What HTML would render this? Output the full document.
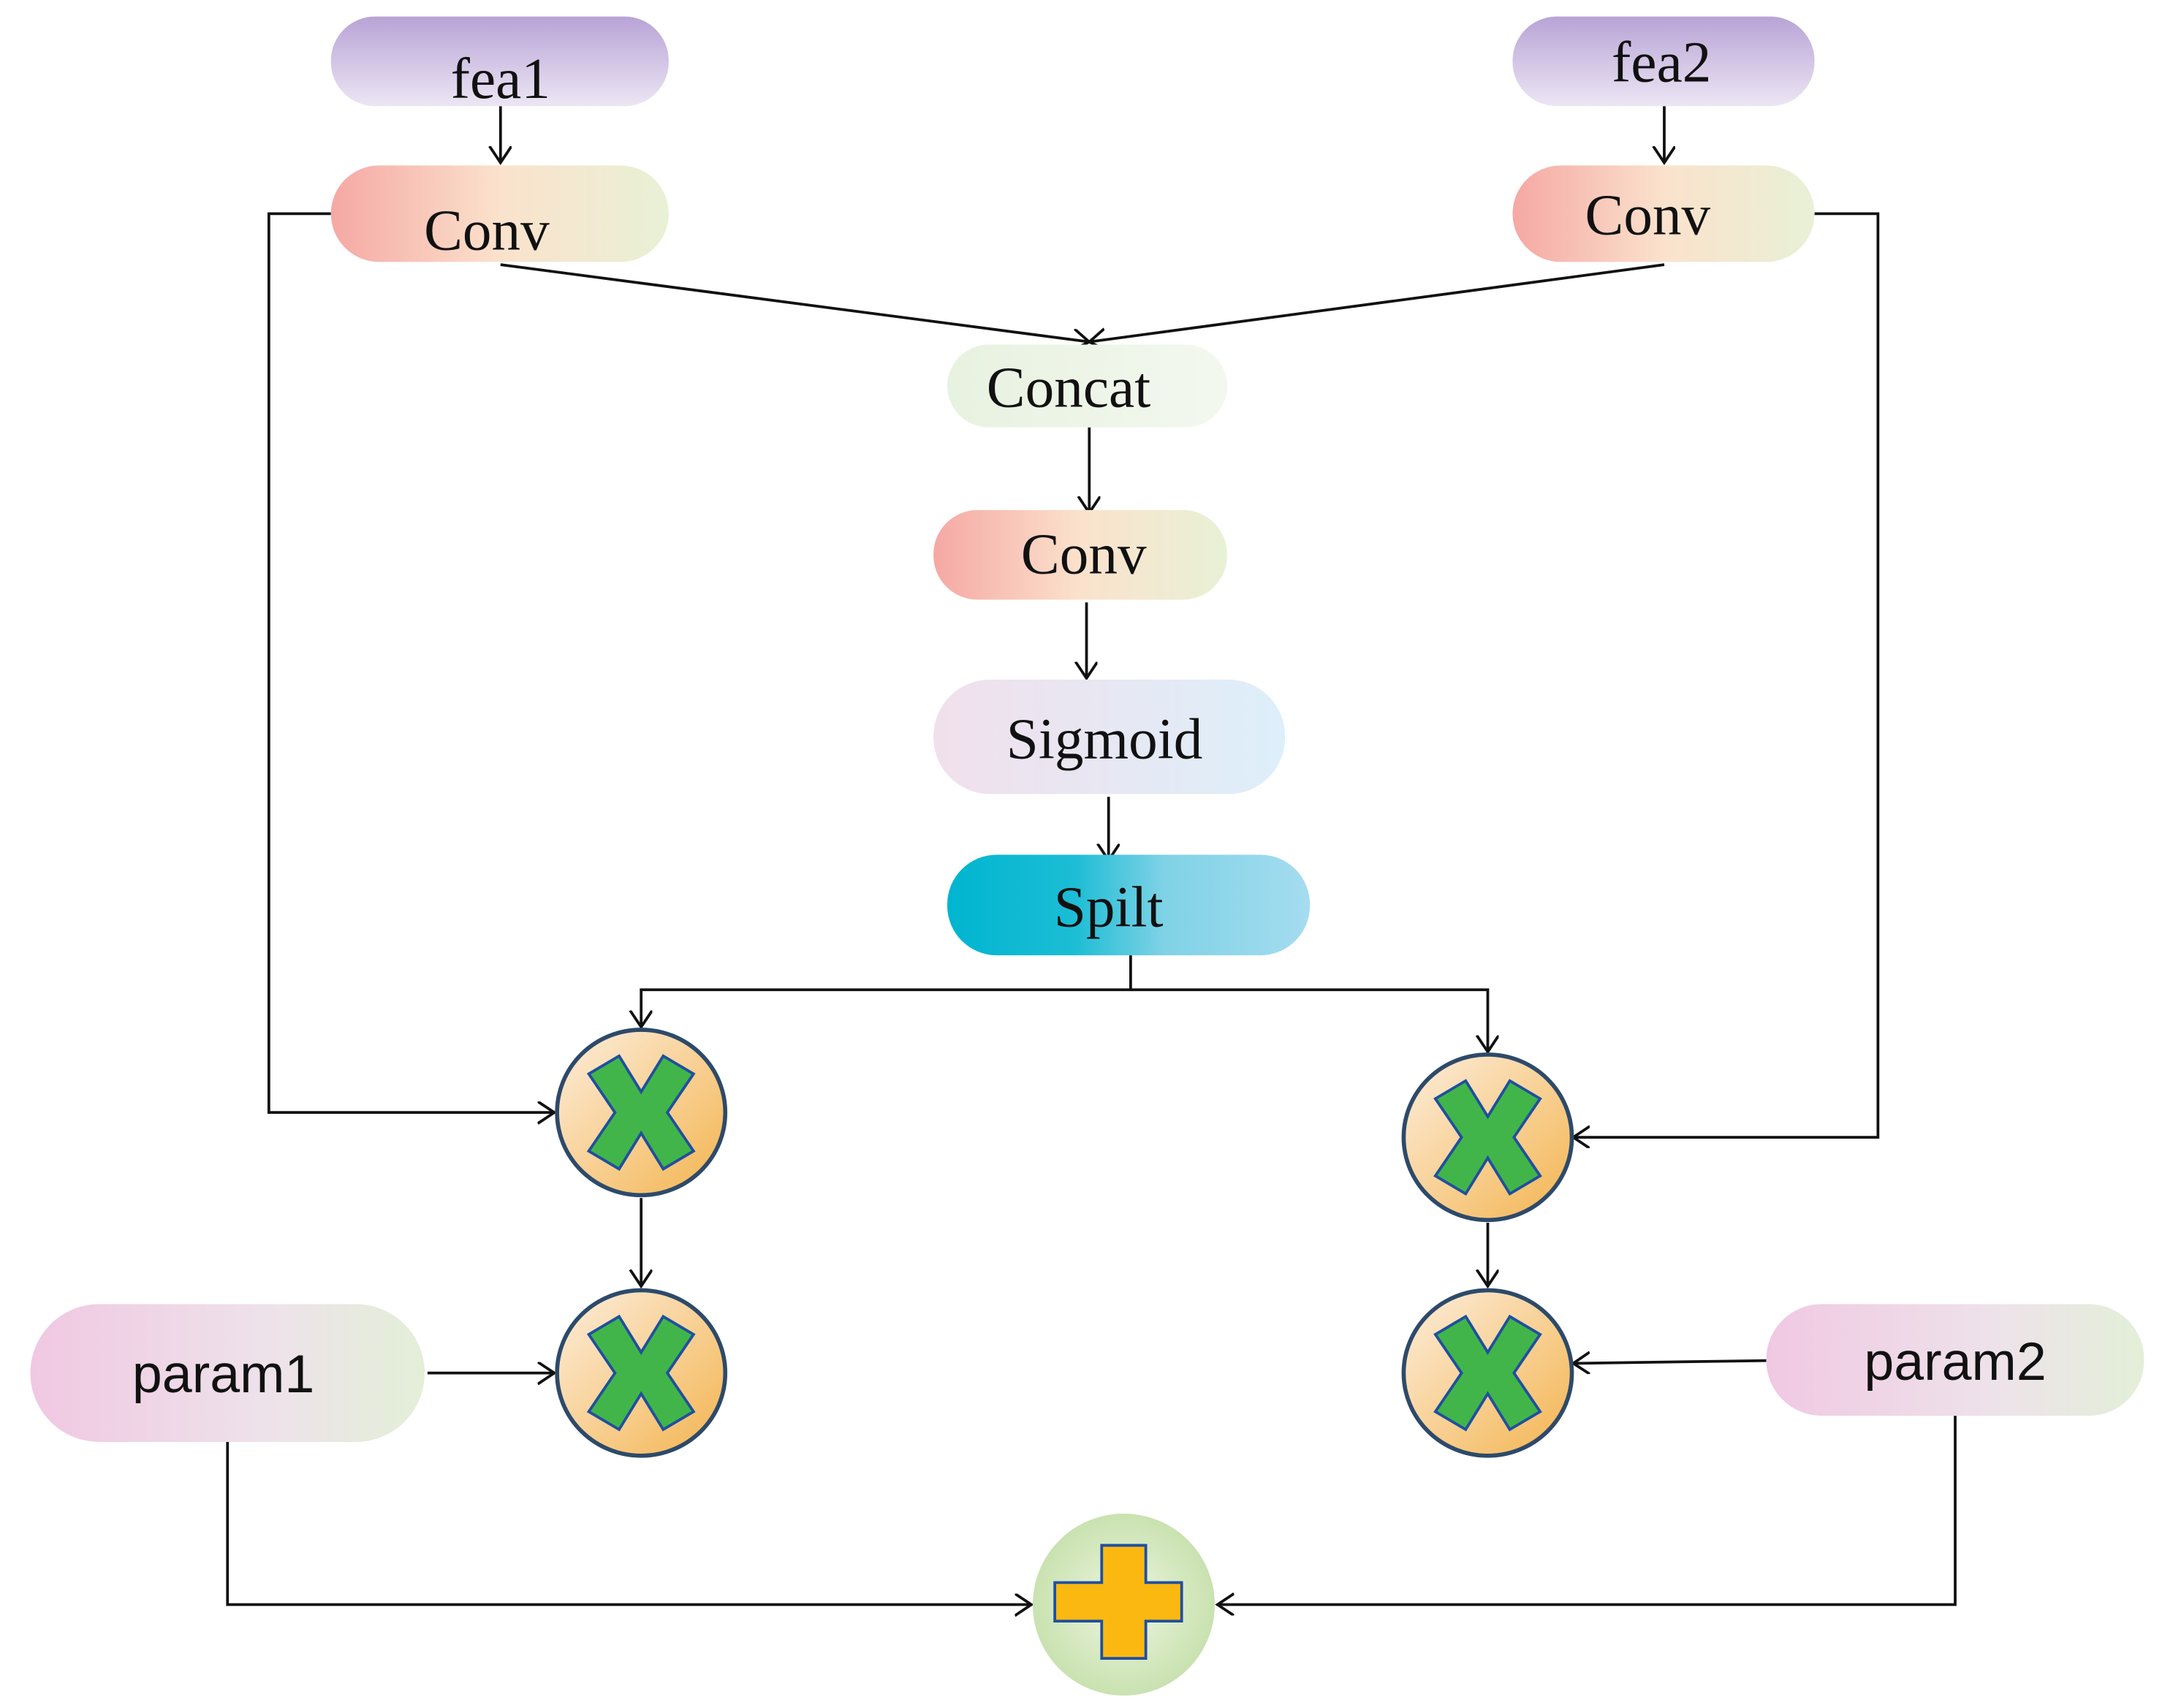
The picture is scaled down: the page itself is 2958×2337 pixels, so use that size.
<!DOCTYPE html>
<html><head><meta charset="utf-8"><style>html,body{margin:0;padding:0;background:#fff;}svg{display:block}</style></head>
<body>
<svg width="2958" height="2337" viewBox="0 0 1568 1239" preserveAspectRatio="none" xmlns="http://www.w3.org/2000/svg">
<defs>
<linearGradient id="pur" x1="0" y1="0" x2="0" y2="1"><stop offset="0" stop-color="#b8a3d6"/><stop offset="1" stop-color="#ece6f4"/></linearGradient>
<linearGradient id="conv" x1="0" y1="0" x2="1" y2="0"><stop offset="0" stop-color="#f5a8a4"/><stop offset="0.5" stop-color="#fbe2cc"/><stop offset="1" stop-color="#e8f1d6"/></linearGradient>
<linearGradient id="cc" x1="0" y1="0" x2="1" y2="0"><stop offset="0" stop-color="#e8f2e0"/><stop offset="1" stop-color="#f3f8ef"/></linearGradient>
<linearGradient id="sig" x1="0" y1="0" x2="1" y2="0"><stop offset="0" stop-color="#f1e0ec"/><stop offset="1" stop-color="#ddeffa"/></linearGradient>
<linearGradient id="sp" x1="0" y1="0" x2="1" y2="0"><stop offset="0" stop-color="#00b5d0"/><stop offset="0.35" stop-color="#1cbdd5"/><stop offset="0.6" stop-color="#80d2e6"/><stop offset="1" stop-color="#a5dcf0"/></linearGradient>
<linearGradient id="par" x1="0" y1="0" x2="1" y2="0"><stop offset="0" stop-color="#f0c8e2"/><stop offset="0.6" stop-color="#eee2ea"/><stop offset="1" stop-color="#e3efd8"/></linearGradient>
<linearGradient id="orb" x1="0" y1="0" x2="1" y2="1"><stop offset="0" stop-color="#fdeedd"/><stop offset="1" stop-color="#f3b44f"/></linearGradient>
<radialGradient id="grn" cx="0.5" cy="0.5" r="0.5"><stop offset="0" stop-color="#eef5e0"/><stop offset="1" stop-color="#c9e2b0"/></radialGradient>
<marker id="a" markerWidth="20" markerHeight="20" refX="12" refY="8" orient="auto" markerUnits="userSpaceOnUse"><polyline points="0,0 12,8 0,16" fill="none" stroke="#111" stroke-width="2"/></marker>
<g id="x"><polygon points="0,-15 16,-41 38,-28 19,0 38,28 16,41 0,15 -16,41 -38,28 -19,0 -38,-28 -16,-41" fill="#41b549" stroke="#1f4fa0" stroke-width="2"/></g>
</defs>
<g fill="none" stroke="#111" stroke-width="2">
<line x1="363" y1="77" x2="363" y2="118" marker-end="url(#a)"/>
<line x1="1207" y1="77" x2="1207" y2="118" marker-end="url(#a)"/>
<line x1="363" y1="192" x2="790" y2="248" marker-end="url(#a)"/>
<line x1="1207" y1="192" x2="790" y2="248" marker-end="url(#a)"/>
<line x1="790" y1="310" x2="790" y2="372" marker-end="url(#a)"/>
<line x1="788" y1="437" x2="788" y2="492" marker-end="url(#a)"/>
<line x1="804" y1="578" x2="804" y2="624" marker-end="url(#a)"/>
<polyline points="820,693 820,718 465,718 465,745" marker-end="url(#a)"/>
<polyline points="820,718 1079,718 1079,763" marker-end="url(#a)"/>
<polyline points="240,155 195,155 195,807 402,807" marker-end="url(#a)"/>
<polyline points="1316,155 1362,155 1362,825 1141,825" marker-end="url(#a)"/>
<line x1="465" y1="869" x2="465" y2="933" marker-end="url(#a)"/>
<line x1="1079" y1="887" x2="1079" y2="933" marker-end="url(#a)"/>
<line x1="310" y1="996" x2="402" y2="996" marker-end="url(#a)"/>
<line x1="1281" y1="987" x2="1141" y2="989" marker-end="url(#a)"/>
<polyline points="165,1046 165,1164 748,1164" marker-end="url(#a)"/>
<polyline points="1418,1027 1418,1164 883,1164" marker-end="url(#a)"/>
</g>
<rect x="240" y="12" width="245" height="65" rx="32" fill="url(#pur)"/>
<rect x="1097" y="12" width="219" height="65" rx="32" fill="url(#pur)"/>
<rect x="240" y="120" width="245" height="70" rx="35" fill="url(#conv)"/>
<rect x="1097" y="120" width="219" height="70" rx="35" fill="url(#conv)"/>
<rect x="687" y="250" width="203" height="60" rx="30" fill="url(#cc)"/>
<rect x="677" y="370" width="213" height="65" rx="32" fill="url(#conv)"/>
<rect x="677" y="493" width="255" height="83" rx="41" fill="url(#sig)"/>
<rect x="687" y="620" width="263" height="73" rx="36" fill="url(#sp)"/>
<rect x="22" y="946" width="286" height="100" rx="50" fill="url(#par)"/>
<rect x="1281" y="946" width="274" height="81" rx="40" fill="url(#par)"/>
<g font-family="'Liberation Serif',serif" font-size="42" fill="#111" text-anchor="middle">
<text x="363" y="71">fea1</text>
<text x="1205" y="59">fea2</text>
<text x="353" y="181">Conv</text>
<text x="1195" y="170">Conv</text>
<text x="775" y="295">Concat</text>
<text x="786" y="416">Conv</text>
<text x="801" y="550">Sigmoid</text>
<text x="804" y="672">Spilt</text>
</g>
<g font-family="'Liberation Sans',sans-serif" font-size="39" fill="#111" text-anchor="middle">
<text x="162" y="1010">param1</text>
<text x="1418" y="1001">param2</text>
</g>
<g stroke="#2d4a6a" stroke-width="3" fill="url(#orb)">
<ellipse cx="465" cy="807" rx="61" ry="60"/>
<ellipse cx="465" cy="996" rx="61" ry="60"/>
<ellipse cx="1079" cy="825" rx="61" ry="60"/>
<ellipse cx="1079" cy="996" rx="61" ry="60"/>
</g>
<use href="#x" x="465" y="807"/>
<use href="#x" x="465" y="996"/>
<use href="#x" x="1079" y="825"/>
<use href="#x" x="1079" y="996"/>
<circle cx="815" cy="1164" r="66" fill="url(#grn)"/>
<polygon points="799,1121 831,1121 831,1148 857,1148 857,1176 831,1176 831,1203 799,1203 799,1176 765,1176 765,1148 799,1148" fill="#fbb811" stroke="#1f4fa0" stroke-width="2"/>
</svg>
</body></html>
